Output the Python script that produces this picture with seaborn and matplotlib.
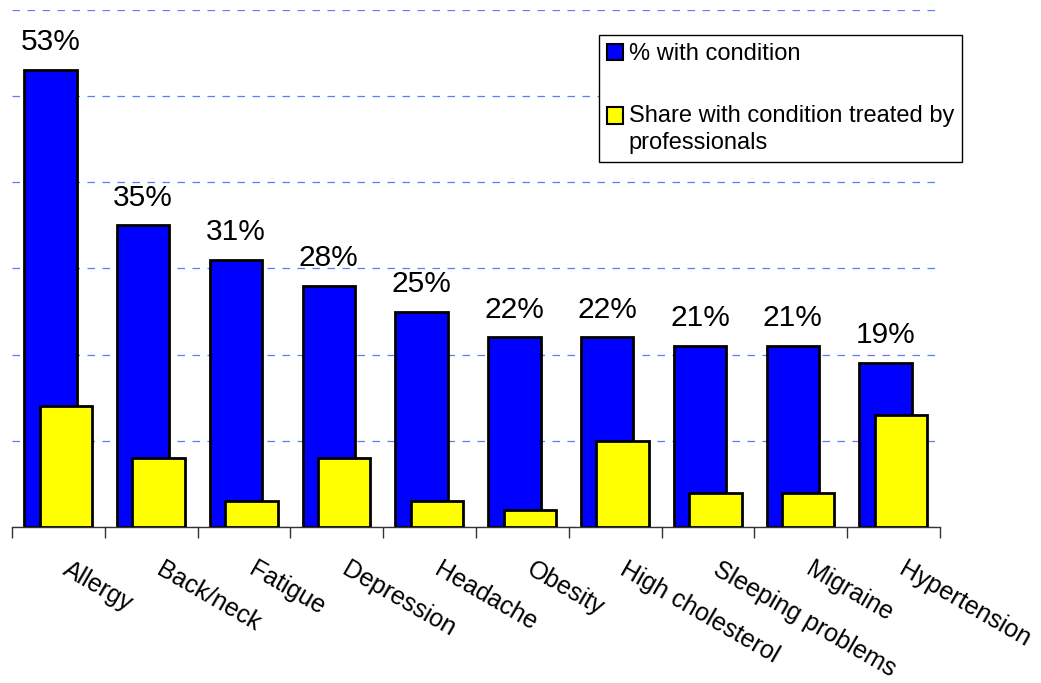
import matplotlib
matplotlib.use("Agg")
import matplotlib.pyplot as plt
import matplotlib.transforms as mtransforms
import seaborn as sns
import pandas as pd
from matplotlib.patches import Patch, Rectangle
from matplotlib.legend_handler import HandlerPatch
from matplotlib.ticker import MultipleLocator, FixedLocator

# Conditions and shares (percent)
conditions = ["Allergy", "Back/neck", "Fatigue", "Depression", "Headache",
              "Obesity", "High cholesterol", "Sleeping problems", "Migraine",
              "Hypertension"]
pct_with_condition = [53, 35, 31, 28, 25, 22, 22, 21, 21, 19]
pct_treated = [14, 8, 3, 8, 3, 2, 10, 4, 4, 13]

series_with = "% with condition"
series_treated = "Share with condition treated by\nprofessionals"

df = pd.DataFrame({"condition": conditions,
                   "with": pct_with_condition,
                   "treated": pct_treated})

sns.set_theme(style="white")
plt.rcParams["font.family"] = ["Liberation Sans", "DejaVu Sans"]

BLUE = "#0000ff"
YELLOW = "#ffff00"
GRID = "#5b7cfa"

fig = plt.figure(figsize=(10.41, 6.83), dpi=100)
ax = fig.add_axes([0.0115, 0.2284, 0.8914, 0.7570])
ax.set_axisbelow(True)

bar_kw = dict(width=0.565, edgecolor="black", linewidth=2, saturation=1, ax=ax)
sns.barplot(data=df, x="condition", y="with", color=BLUE, **bar_kw)
n = len(ax.patches)
sns.barplot(data=df, x="condition", y="treated", color=YELLOW, **bar_kw)

# Overlapping pair: blue shifted left, yellow shifted right and drawn on top
for p in ax.patches[:n]:
    p.set_x(p.get_x() - 0.086)
for p in ax.patches[n:]:
    p.set_x(p.get_x() + 0.081)
    p.set_zorder(3)

ax.bar_label(ax.containers[0], fmt="{:.0f}%", padding=10, fontsize=21.5,
             color="black")

ax.set_ylim(0, 60)
ax.set_xlim(-0.5, len(conditions) - 0.5)
ax.yaxis.set_major_locator(MultipleLocator(10))
ax.grid(axis="y", color=GRID, linewidth=0.9, linestyle=(0, (6, 6)))
ax.grid(axis="x", visible=False)
ax.tick_params(axis="y", left=False, labelleft=False)

# Category labels at centres, tick marks at category boundaries
ax.xaxis.set_minor_locator(FixedLocator([i - 0.5 for i in range(len(conditions) + 1)]))
ax.tick_params(axis="x", which="major", length=0, pad=22, labelsize=18,
               labelcolor="black")
ax.tick_params(axis="x", which="minor", bottom=True, length=8, width=1,
               direction="out", color="#333333")
label_shift = mtransforms.ScaledTranslation(13 / 100, 0, fig.dpi_scale_trans)
for lbl in ax.get_xticklabels():
    lbl.set_rotation(-30)
    lbl.set_ha("left")
    lbl.set_va("top")
    lbl.set_rotation_mode("anchor")
    lbl.set_transform(lbl.get_transform() + label_shift)
ax.set_xlabel("")
ax.set_ylabel("")

for side in ("left", "top", "right"):
    ax.spines[side].set_visible(False)
ax.spines["bottom"].set_color("#333333")
ax.spines["bottom"].set_linewidth(1)


class FirstLineHandler(HandlerPatch):
    """Square handle aligned with the first line of a two-line label."""

    def __init__(self, shift, **kw):
        super().__init__(**kw)
        self.shift = shift

    def create_artists(self, legend, orig_handle, xdescent, ydescent,
                       width, height, fontsize, trans):
        p = Rectangle((-xdescent, -ydescent + self.shift * fontsize),
                      width, height)
        self.update_prop(p, orig_handle, legend)
        p.set_transform(trans)
        return [p]


h_with = Patch(facecolor=BLUE, edgecolor="black", linewidth=1.5)
h_treated = Patch(facecolor=YELLOW, edgecolor="black", linewidth=1.5)
leg = ax.legend([h_with, h_treated], [series_with, series_treated],
                loc="upper left", bbox_to_anchor=(0.5754, 0.9488),
                bbox_transform=fig.transFigure, borderaxespad=0,
                fontsize=17, frameon=True, fancybox=False, shadow=False,
                handlelength=0.68, handleheight=0.68, handletextpad=0.22,
                borderpad=0.35, labelspacing=1.7,
                handler_map={h_treated: FirstLineHandler(0.6)})
leg.get_frame().set_edgecolor("black")
leg.get_frame().set_linewidth(1.0)
leg.get_frame().set_alpha(1)
for t in leg.get_texts():
    t.set_color("black")
    t.set_linespacing(1.25)

fig.savefig("out.png", dpi=100)
